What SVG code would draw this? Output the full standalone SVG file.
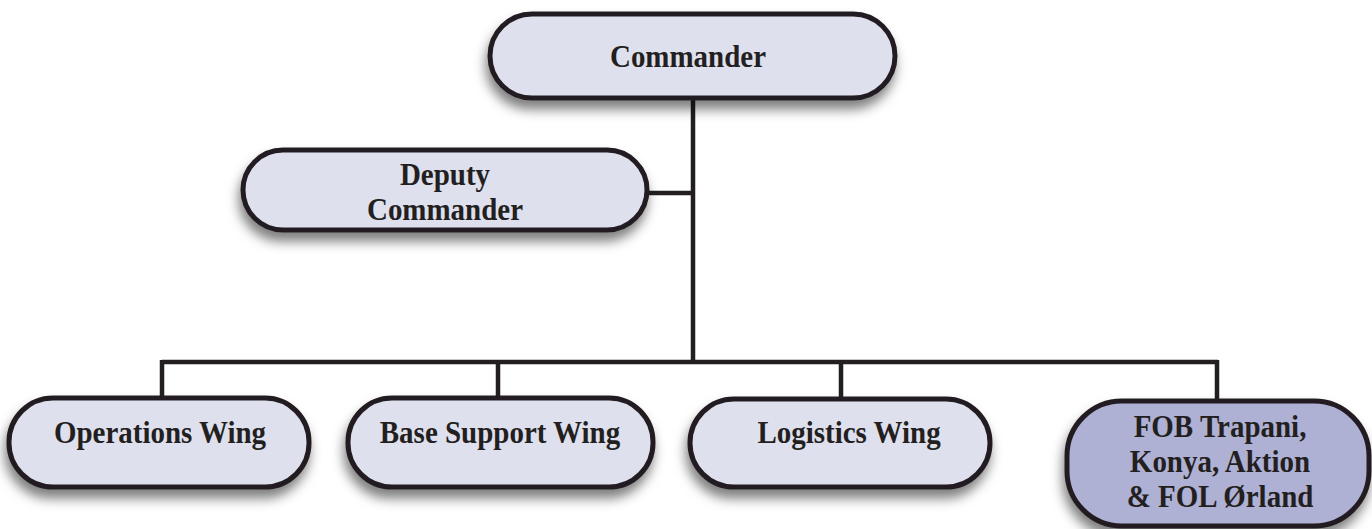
<svg xmlns="http://www.w3.org/2000/svg" width="1372" height="529" viewBox="0 0 1372 529">
<style>
.box{fill:#dfe0ee;stroke:#231f20;stroke-width:5;filter:url(#sh)}
.dark{fill:#aeb0d4}
.t{font-family:'Liberation Serif','Times New Roman',serif;font-weight:700;font-size:31.5px;fill:#231f20;text-anchor:middle}
.c{stroke:#231f20;stroke-width:4.5;fill:none}
</style>
<defs>
<filter id="sh" x="-20%" y="-30%" width="140%" height="170%">
<feDropShadow dx="-2" dy="9" stdDeviation="6" flood-color="#000" flood-opacity="0.5"/>
</filter>
</defs>
<rect width="1372" height="529" fill="#fff"/>
<g id="connectors">
<path class="c" d="M693 98V362M647 193H693M162 362H1218M162 360V400M498 360V400M841 360V400M1217 360V402"/>
</g>
<g id="commander">
<rect class="box" x="490" y="14" width="405" height="84" rx="42"/>
<text class="t" transform="translate(688,67) scale(0.92,1)">Commander</text>
</g>
<g id="deputy">
<rect class="box" x="243" y="150" width="404" height="80" rx="40"/>
<text class="t" transform="translate(445,185) scale(0.92,1)">Deputy</text>
<text class="t" transform="translate(445,220) scale(0.92,1)">Commander</text>
</g>
<g id="operations">
<rect class="box" x="9" y="398" width="300" height="89" rx="44"/>
<text class="t" transform="translate(160,443) scale(0.92,1)">Operations Wing</text>
</g>
<g id="basesupport">
<rect class="box" x="348" y="398" width="305" height="89" rx="44"/>
<text class="t" transform="translate(500,443) scale(0.92,1)">Base Support Wing</text>
</g>
<g id="logistics">
<rect class="box" x="690" y="399" width="300" height="88" rx="44"/>
<text class="t" transform="translate(849,443) scale(0.92,1)">Logistics Wing</text>
</g>
<g id="fob">
<rect class="box dark" x="1067" y="401" width="302" height="125" rx="55"/>
<text class="t" transform="translate(1220,437) scale(0.92,1)">FOB Trapani,</text>
<text class="t" transform="translate(1220,472) scale(0.92,1)">Konya, Aktion</text>
<text class="t" transform="translate(1220,507) scale(0.92,1)">&amp; FOL Ørland</text>
</g>
</svg>
